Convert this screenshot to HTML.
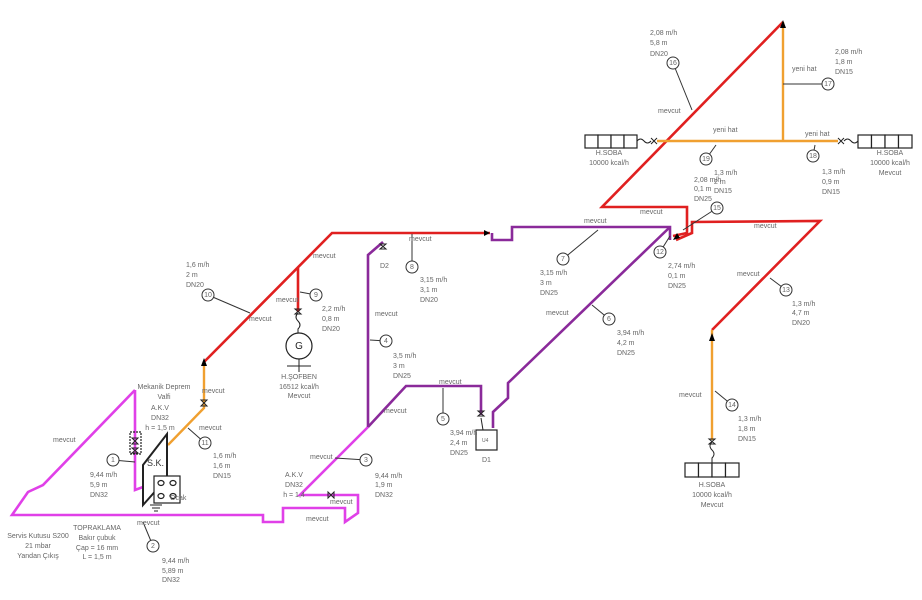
<!DOCTYPE html>
<html><head><meta charset="utf-8"><style>
html,body{margin:0;padding:0;background:#fff;width:922px;height:600px;overflow:hidden}
svg text{font-family:"Liberation Sans",sans-serif;font-size:7px;fill:#666}
</style></head><body>
<svg width="922" height="600" viewBox="0 0 922 600" xmlns="http://www.w3.org/2000/svg">
<g fill="none" stroke-linejoin="miter">
<polyline stroke="#e040e8" stroke-width="2.6" points="135,390 135,490 143,487"/>
<polyline stroke="#e040e8" stroke-width="2.6" points="135,390 43,485 28,492 12,515 263,515 263,522 283,522 283,508 345,508 345,522 358,513 358,495 300,495 368,427"/>
<polyline stroke="#8a2a9a" stroke-width="2.6" points="368,427 368,255 383,242"/>
<polyline stroke="#8a2a9a" stroke-width="2.6" points="368,427 406,386 481,386 481,415"/>
<polyline stroke="#8a2a9a" stroke-width="2.6" points="493,428 493,412 508,398 508,383 670,227"/>
<polyline stroke="#8a2a9a" stroke-width="2.6" points="492,233 492,240 512,240 512,227 670,227 670,240"/>
<polyline stroke="#e02020" stroke-width="2.6" points="204,362 332,233 490,233"/>
<polyline stroke="#e02020" stroke-width="2.6" points="298,268 298,312"/>
<polyline stroke="#e02020" stroke-width="2.6" points="783,22 602,207 687,207 687,233 673,236"/>
<polyline stroke="#e02020" stroke-width="2.6" points="676,240 692,233 692,222 820,221 712,330"/>
<polyline stroke="#f0a030" stroke-width="2.4" points="204,362 204,408 168,445"/>
<polyline stroke="#f0a030" stroke-width="2.4" points="783,22 783,141"/>
<polyline stroke="#f0a030" stroke-width="2.4" points="657,141 838,141"/>
<polyline stroke="#f0a030" stroke-width="2.4" points="712,330 712,440"/>
</g>
<g fill="#000"><polygon points="204,358 201,366 207,366"/><polygon points="490,233 484,230 484,236"/><polygon points="783,20 780,28 786,28"/><polygon points="712,333 709,341 715,341"/><polygon points="673,240 677,233 680,238"/></g>
<g stroke="#333" stroke-width="1" fill="#fff">
<line x1="673" y1="63" x2="692" y2="110"/><line x1="828" y1="84" x2="783" y2="84"/>
<line x1="706" y1="159" x2="716" y2="145"/><line x1="813" y1="156" x2="815" y2="145"/>
<line x1="717" y1="208" x2="683" y2="230"/><line x1="660" y1="252" x2="670" y2="236"/>
<line x1="786" y1="290" x2="770" y2="278"/><line x1="732" y1="405" x2="715" y2="391"/>
<line x1="563" y1="259" x2="598" y2="230"/><line x1="609" y1="319" x2="592" y2="305"/>
<line x1="412" y1="267" x2="412" y2="234"/><line x1="386" y1="341" x2="370" y2="340"/>
<line x1="443" y1="419" x2="443" y2="388"/><line x1="366" y1="460" x2="335" y2="458"/>
<line x1="153" y1="546" x2="143" y2="522"/><line x1="113" y1="460" x2="135" y2="462"/>
<line x1="205" y1="443" x2="188" y2="428"/><line x1="208" y1="295" x2="250" y2="313"/>
<line x1="316" y1="295" x2="300" y2="292"/>
<circle cx="673" cy="63" r="6"/><circle cx="828" cy="84" r="6"/><circle cx="706" cy="159" r="6"/><circle cx="813" cy="156" r="6"/>
<circle cx="717" cy="208" r="6"/><circle cx="660" cy="252" r="6"/><circle cx="786" cy="290" r="6"/><circle cx="732" cy="405" r="6"/>
<circle cx="563" cy="259" r="6"/><circle cx="609" cy="319" r="6"/><circle cx="412" cy="267" r="6"/><circle cx="386" cy="341" r="6"/>
<circle cx="443" cy="419" r="6"/><circle cx="366" cy="460" r="6"/><circle cx="153" cy="546" r="6"/><circle cx="113" cy="460" r="6"/>
<circle cx="205" cy="443" r="6"/><circle cx="208" cy="295" r="6"/><circle cx="316" cy="295" r="6"/>
</g>
<g text-anchor="middle" style="font-size:5px">
<text x="673" y="65">16</text><text x="828" y="86">17</text><text x="706" y="161">19</text><text x="813" y="158">18</text>
<text x="717" y="210">15</text><text x="660" y="254">12</text><text x="786" y="292">13</text><text x="732" y="407">14</text>
<text x="563" y="261">7</text><text x="609" y="321">6</text><text x="412" y="269">8</text><text x="386" y="343">4</text>
<text x="443" y="421">5</text><text x="366" y="462">3</text><text x="153" y="548">2</text><text x="113" y="462">1</text>
<text x="205" y="445">11</text><text x="208" y="297">10</text><text x="316" y="297">9</text>
</g>
<g stroke="#222" stroke-width="1.2" fill="#fff">
<rect x="585" y="135" width="13" height="13"/><rect x="598" y="135" width="13" height="13"/><rect x="611" y="135" width="13" height="13"/><rect x="624" y="135" width="13" height="13"/>
<rect x="858" y="135" width="13.5" height="13"/><rect x="871.5" y="135" width="13.5" height="13"/><rect x="885" y="135" width="13.5" height="13"/><rect x="898.5" y="135" width="13.5" height="13"/>
<rect x="685" y="463" width="13.5" height="14"/><rect x="698.5" y="463" width="13.5" height="14"/><rect x="712" y="463" width="13.5" height="14"/><rect x="725.5" y="463" width="13.5" height="14"/>
<rect x="476" y="430" width="21" height="20"/>
<circle cx="299" cy="346" r="13"/>
<polygon points="143,465 167,434 167,478 143,505" fill="none" stroke-width="2"/>
<rect x="154" y="476" width="26" height="27"/>
<ellipse cx="161" cy="483" rx="3" ry="2.5"/><ellipse cx="173" cy="483" rx="3" ry="2.5"/><ellipse cx="161" cy="496" rx="3" ry="2.5"/><ellipse cx="173" cy="496" rx="3" ry="2.5"/>
<rect x="130" y="432" width="11" height="22" stroke-dasharray="2,1" fill="none"/>
</g>
<g stroke="#222" stroke-width="1" fill="none">
<line x1="287" y1="366" x2="311" y2="366"/><line x1="299" y1="359" x2="299" y2="372"/>
<path d="M637,141 q3.5,-4 7,0 t7,0 M844,141 q3.5,-4 7,0 t7,0"/>
<path d="M651,138 l6,6 M651,144 l6,-6 M838,138 l6,6 M838,144 l6,-6"/>
<path d="M712,442 q-4,4 0,8 t0,8 L712,463"/><path d="M709,439 l6,0 l-6,5 l6,0 z"/>
<path d="M298,313 q-4,4 0,8 t0,8 L298,333"/><path d="M295,309 l6,0 l-6,5 l6,0 z"/>
<path d="M201,400 l6,0 l-6,6 l6,0 z"/><path d="M478,411 l6,0 l-6,5 l6,0 z"/><path d="M481,418 L483,430"/>
<path d="M380,244 l6,0 l-6,5 l6,0 z"/><path d="M328,492 l0,6 l6,-6 l0,6 z"/>
<path d="M132,438 l6,0 l-6,6 l6,0 z M132,448 l6,0 l-6,5 l6,0 z"/>
<line x1="150" y1="505" x2="162" y2="505"/><line x1="152" y1="508" x2="160" y2="508"/><line x1="154" y1="511" x2="158" y2="511"/>
</g>
<text x="299" y="349" text-anchor="middle" style="font-size:10px;fill:#222">G</text>
<text x="482" y="442" style="font-size:5px">U4</text>
<text x="147" y="466" style="font-size:9px;fill:#333">S.K.</text>
<g>
<text x="650" y="35">2,08 m/h</text><text x="650" y="45">5,8 m</text><text x="650" y="56">DN20</text>
<text x="835" y="54">2,08 m/h</text><text x="835" y="64">1,8 m</text><text x="835" y="74">DN15</text>
<text x="792" y="71">yeni hat</text><text x="713" y="132">yeni hat</text><text x="805" y="136">yeni hat</text>
<text x="658" y="113">mevcut</text>
<text x="714" y="175">1,3 m/h</text><text x="714" y="184">2 m</text><text x="714" y="193">DN15</text>
<text x="694" y="182">2,08 m/h</text><text x="694" y="191">0,1 m</text><text x="694" y="201">DN25</text>
<text x="822" y="174">1,3 m/h</text><text x="822" y="184">0,9 m</text><text x="822" y="194">DN15</text>
<text x="609" y="155" text-anchor="middle">H.SOBA</text><text x="609" y="165" text-anchor="middle">10000 kcal/h</text>
<text x="890" y="155" text-anchor="middle">H.SOBA</text><text x="890" y="165" text-anchor="middle">10000 kcal/h</text><text x="890" y="175" text-anchor="middle">Mevcut</text>
<text x="640" y="214">mevcut</text><text x="754" y="228">mevcut</text><text x="584" y="223">mevcut</text>
<text x="668" y="268">2,74 m/h</text><text x="668" y="278">0,1 m</text><text x="668" y="288">DN25</text>
<text x="737" y="276">mevcut</text>
<text x="792" y="306">1,3 m/h</text><text x="792" y="315">4,7 m</text><text x="792" y="325">DN20</text>
<text x="679" y="397">mevcut</text>
<text x="738" y="421">1,3 m/h</text><text x="738" y="431">1,8 m</text><text x="738" y="441">DN15</text>
<text x="712" y="487" text-anchor="middle">H.SOBA</text><text x="712" y="497" text-anchor="middle">10000 kcal/h</text><text x="712" y="507" text-anchor="middle">Mevcut</text>
<text x="540" y="275">3,15 m/h</text><text x="540" y="285">3 m</text><text x="540" y="295">DN25</text>
<text x="546" y="315">mevcut</text>
<text x="617" y="335">3,94 m/h</text><text x="617" y="345">4,2 m</text><text x="617" y="355">DN25</text>
<text x="409" y="241">mevcut</text><text x="380" y="268">D2</text>
<text x="420" y="282">3,15 m/h</text><text x="420" y="292">3,1 m</text><text x="420" y="302">DN20</text>
<text x="375" y="316">mevcut</text>
<text x="393" y="358">3,5 m/h</text><text x="393" y="368">3 m</text><text x="393" y="378">DN25</text>
<text x="439" y="384">mevcut</text><text x="384" y="413">mevcut</text>
<text x="450" y="435">3,94 m/h</text><text x="450" y="445">2,4 m</text><text x="450" y="455">DN25</text>
<text x="482" y="462">D1</text>
<text x="310" y="459">mevcut</text>
<text x="375" y="478">9,44 m/h</text><text x="375" y="487">1,9 m</text><text x="375" y="497">DN32</text>
<text x="294" y="477" text-anchor="middle">A.K.V</text><text x="294" y="487" text-anchor="middle">DN32</text><text x="294" y="497" text-anchor="middle">h = 1,4</text>
<text x="330" y="504">mevcut</text><text x="306" y="521">mevcut</text>
<text x="137" y="525">mevcut</text>
<text x="162" y="563">9,44 m/h</text><text x="162" y="573">5,89 m</text><text x="162" y="582">DN32</text>
<text x="97" y="530" text-anchor="middle">TOPRAKLAMA</text><text x="97" y="540" text-anchor="middle">Bakır çubuk</text><text x="97" y="550" text-anchor="middle">Çap = 16 mm</text><text x="97" y="559" text-anchor="middle">L = 1,5 m</text>
<text x="38" y="538" text-anchor="middle">Servis Kutusu S200</text><text x="38" y="548" text-anchor="middle">21 mbar</text><text x="38" y="558" text-anchor="middle">Yandan Çıkış</text>
<text x="53" y="442">mevcut</text>
<text x="90" y="477">9,44 m/h</text><text x="90" y="487">5,9 m</text><text x="90" y="497">DN32</text>
<text x="164" y="389" text-anchor="middle">Mekanik Deprem</text><text x="164" y="399" text-anchor="middle">Valfi</text>
<text x="160" y="410" text-anchor="middle">A.K.V</text><text x="160" y="420" text-anchor="middle">DN32</text><text x="160" y="430" text-anchor="middle">h = 1,5 m</text>
<text x="199" y="430">mevcut</text><text x="202" y="393">mevcut</text>
<text x="213" y="458">1,6 m/h</text><text x="213" y="468">1,6 m</text><text x="213" y="478">DN15</text>
<text x="170" y="500">Ocak</text>
<text x="249" y="321">mevcut</text><text x="313" y="258">mevcut</text>
<text x="186" y="267">1,6 m/h</text><text x="186" y="277">2 m</text><text x="186" y="287">DN20</text>
<text x="276" y="302">mevcut</text>
<text x="322" y="311">2,2 m/h</text><text x="322" y="321">0,8 m</text><text x="322" y="331">DN20</text>
<text x="299" y="379" text-anchor="middle">H.ŞOFBEN</text><text x="299" y="389" text-anchor="middle">16512 kcal/h</text><text x="299" y="398" text-anchor="middle">Mevcut</text>
</g>
</svg>
</body></html>
